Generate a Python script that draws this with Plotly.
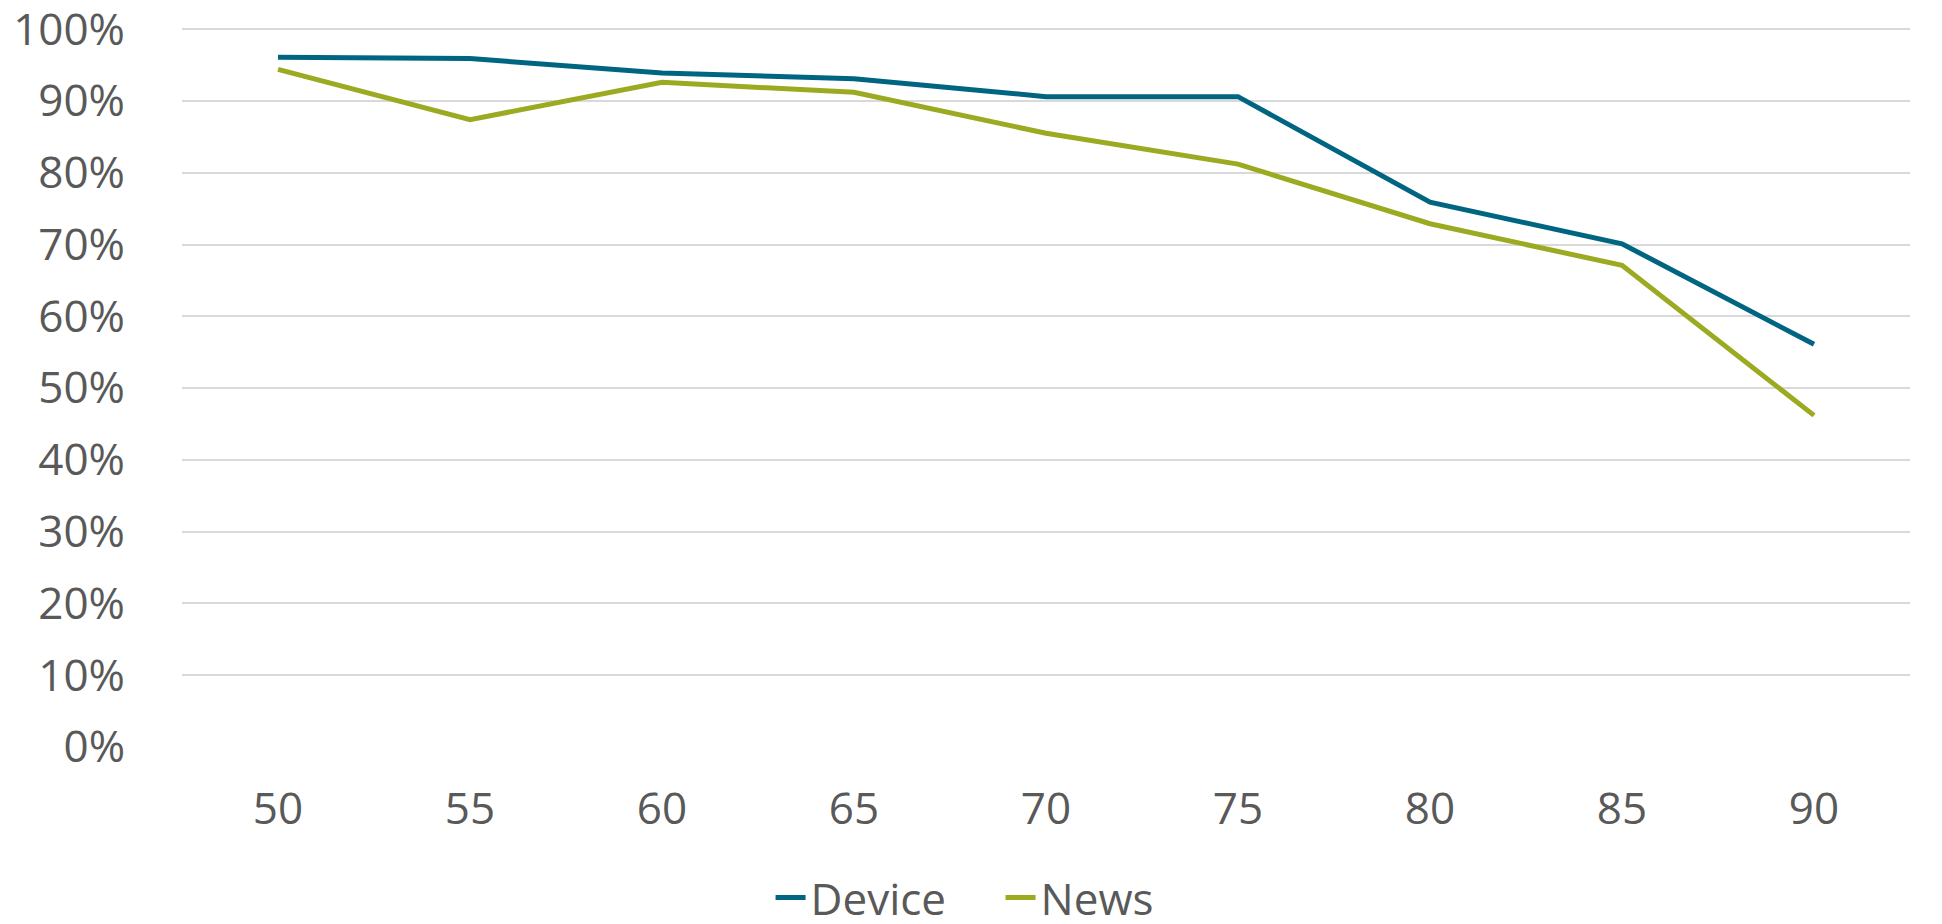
import plotly.graph_objects as go

ages = ["50", "55", "60", "65", "70", "75", "80", "85", "90"]
device = [0.961, 0.959, 0.939, 0.931, 0.906, 0.906, 0.759, 0.701, 0.561]
news = [0.944, 0.874, 0.926, 0.912, 0.855, 0.812, 0.729, 0.671, 0.462]

font = "Open Sans"
grey = "#595959"

fig = go.Figure()
fig.add_trace(go.Scatter(x=ages, y=device, name="Device", mode="lines",
                         line=dict(color="#006580", width=5)))
fig.add_trace(go.Scatter(x=ages, y=news, name="News", mode="lines",
                         line=dict(color="#9CAA22", width=5)))

# page body has an 8px margin, so the figure is a bit smaller than the window
fig.update_layout(
    width=1926, height=908,
    margin=dict(l=174, r=24, t=14, b=169),
    plot_bgcolor="white", paper_bgcolor="white",
    font=dict(family=font, size=44, color=grey),
    showlegend=True,
    legend=dict(orientation="h", x=0.3406, xanchor="left", xref="paper",
                y=0.02, yanchor="middle", yref="container",
                font=dict(size=44, color=grey), itemwidth=30, tracegroupgap=0,
                entrywidth=185, entrywidthmode="pixels"),
)
fig.update_xaxes(type="category", range=[-0.5, 8.5], showgrid=False, zeroline=False,
                 showline=False, ticks="", ticklabelstandoff=32, automargin=False,
                 tickfont=dict(size=44, color=grey))
fig.update_yaxes(range=[0, 1.01], tickvals=[i / 10 for i in range(11)], tickformat=".0%",
                 showgrid=True, gridcolor="#D9D9D9", gridwidth=1.5, zeroline=False,
                 showline=False, ticks="", ticklabelstandoff=56, automargin=False,
                 ticklabeloverflow="allow", tickfont=dict(size=44, color=grey))

fig.write_html("out.html")
